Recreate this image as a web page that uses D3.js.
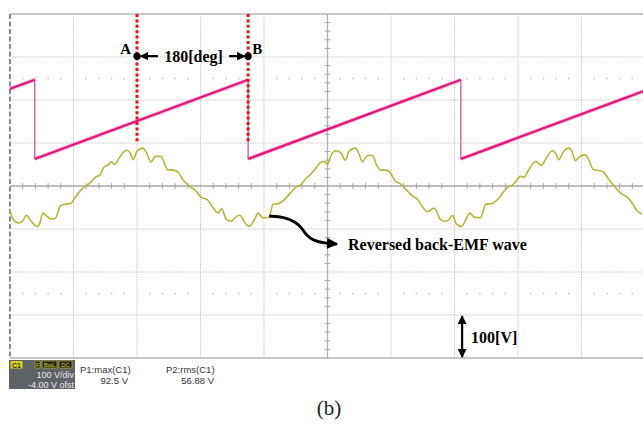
<!DOCTYPE html>
<html><head><meta charset="utf-8">
<script src="https://cdn.jsdelivr.net/npm/d3@7/dist/d3.min.js"></script>
<style>body{margin:0;background:#fff}svg{display:block}</style>
</head><body>
<svg id="c" width="643" height="425"></svg>
<script>
// ---------- data ----------
const divisions = d3.range(0, 11);            // time divisions (10 div screen)
const voltTicks = d3.range(-400, 401, 100);   // 100 V/div, 8 div
// magenta sawtooth (time in div, volts)
const sawT = [0.00, 0.39, 0.39, 3.75, 3.75, 7.10, 7.10, 9.97];
const sawV = [226, 247, 63, 247, 63, 247, 63, 220];
// reversed back-EMF wave
const emfT = [0.00,0.05,0.13,0.20,0.26,0.33,0.42,0.46,0.52,0.58,0.63,0.71,0.79,0.87,0.96,1.02,1.10,1.18,1.26,1.34,1.42,1.47,1.55,1.60,1.65,1.71,1.76,1.84,1.89,1.94,2.00,2.09,2.15,2.22,2.29,2.38,2.48,2.57,2.65,2.72,2.83,2.93,3.01,3.11,3.20,3.28,3.33,3.41,3.49,3.54,3.62,3.70,3.77,3.85,3.91,3.98,4.08,4.14,4.22,4.29,4.40,4.50,4.58,4.66,4.74,4.82,4.90,4.95,5.00,5.06,5.13,5.21,5.28,5.34,5.44,5.50,5.55,5.63,5.71,5.76,5.84,5.92,5.97,6.07,6.15,6.26,6.36,6.41,6.49,6.57,6.68,6.78,6.86,6.91,6.97,7.03,7.11,7.18,7.24,7.32,7.41,7.49,7.60,7.70,7.78,7.86,7.91,7.97,8.04,8.09,8.17,8.28,8.37,8.43,8.54,8.60,8.64,8.72,8.80,8.85,8.90,8.98,9.05,9.10,9.19,9.27,9.35,9.43,9.53,9.61,9.72,9.80,9.87,9.95];
const emfV = [-56,-78,-86,-81,-68,-81,-94,-90,-63,-70,-76,-76,-47,-42,-40,-28,-12,-1,7,20,26,42,50,56,50,63,74,83,77,61,81,88,77,56,69,69,38,37,32,15,-1,-12,-26,-32,-51,-63,-53,-78,-82,-74,-68,-86,-94,-78,-63,-74,-73,-43,-41,-36,-19,-3,3,17,28,42,56,57,50,73,82,77,60,81,88,73,56,71,71,53,37,37,34,11,5,-12,-26,-30,-47,-60,-51,-78,-82,-78,-68,-88,-94,-78,-63,-73,-74,-43,-40,-28,-12,-1,2,11,23,20,38,57,48,61,82,74,61,81,88,81,59,69,73,65,38,36,32,15,-3,-16,-26,-40,-57,-65];
// annotations
const markerT = [2.00, 3.75];
const markerLabels = ["A", "B"];
const markerTopV = 400, markerBottomV = 100, markerDotV = 302;
const phaseLabel = "180[deg]";
const emfLabel = "Reversed back-EMF wave";
const calloutT = [4.08, 4.32, 4.50, 4.60, 4.66, 4.78, 4.95, 5.15];
const calloutV = [-70, -72, -84, -98, -114, -127, -133, -135];
const scaleLabel = "100[V]";
const scaleBarT = 7.12, scaleBarV = [-300, -400];
const readoutNames = ["P1:max(C1)", "P2:rms(C1)"];
const readoutValues = ["92.5 V", "56.88 V"];
const channelInfo = ["100 V/div", "-4.00 V ofst"];
const channelFlags = ["F", "BwL", "DC"];
const caption = "(b)";

// ---------- scales ----------
const svg = d3.select("#c");
const x = d3.scaleLinear().domain([0, 10]).range([10, 645]);
const y = d3.scaleLinear().domain([-400, 400]).range([358, 14]);

const defs = svg.append("defs");
defs.append("marker").attr("id","ah").attr("viewBox","0 0 10 10").attr("refX",9).attr("refY",5)
  .attr("markerWidth",4).attr("markerHeight",4).attr("orient","auto-start-reverse")
  .attr("markerUnits","strokeWidth")
  .append("path").attr("d","M0,0L10,5L0,10z").attr("fill","#000");

const g = svg.append("g");
// grid
g.selectAll(".vg").data(divisions.filter(d => d !== 0 && d !== 5)).join("line")
  .attr("x1", d => x(d)).attr("x2", d => x(d)).attr("y1", y(400)).attr("y2", y(-400))
  .attr("stroke", "#c8c8c8").attr("stroke-width", 1).attr("stroke-dasharray", "1.5,1");
g.selectAll(".hg").data(voltTicks.filter(v => Math.abs(v) !== 400 && v !== 0)).join("line")
  .attr("x1", x(0)).attr("x2", x(10)).attr("y1", d => y(d)).attr("y2", d => y(d))
  .attr("stroke", "#c8c8c8").attr("stroke-width", 1).attr("stroke-dasharray", "1.5,1");
// dotted rows at +/-2.5 div
const minorT = d3.range(0, 50).map(i => i * 0.2).filter(t => Math.abs(t - Math.round(t)) > 0.01);
[250, -250].forEach(v => {
  g.selectAll(null).data(minorT).join("rect")
    .attr("x", d => x(d) - 0.75).attr("y", y(v) - 0.75).attr("width", 1.5).attr("height", 1.5)
    .attr("fill", "#c0c0c0");
});
// borders
g.append("line").attr("x1", x(0)).attr("x2", x(10)).attr("y1", y(400)).attr("y2", y(400))
  .attr("stroke", "#c8c8c8").attr("stroke-width", 2);
g.append("line").attr("x1", x(0)).attr("x2", x(10)).attr("y1", y(-400)).attr("y2", y(-400))
  .attr("stroke", "#c8c8c8").attr("stroke-width", 2);
g.append("line").attr("x1", x(0)).attr("x2", x(0)).attr("y1", y(400)).attr("y2", y(-400))
  .attr("stroke", "#8a8a8a").attr("stroke-width", 2).attr("stroke-dasharray", "5,2.5");
// center axes with ticks
g.append("line").attr("x1", x(0)).attr("x2", x(10)).attr("y1", y(0)).attr("y2", y(0))
  .attr("stroke", "#a8a8a8").attr("stroke-width", 1.3);
g.append("line").attr("x1", x(5)).attr("x2", x(5)).attr("y1", y(400)).attr("y2", y(-400))
  .attr("stroke", "#b0b0b0").attr("stroke-width", 1.3);
g.selectAll(".xt").data(minorT).join("line")
  .attr("x1", d => x(d)).attr("x2", d => x(d)).attr("y1", y(0) - 3).attr("y2", y(0) + 3)
  .attr("stroke", "#a8a8a8").attr("stroke-width", 1);
const minorV = d3.range(-400, 401, 20).filter(v => v % 100 !== 0);
g.selectAll(".yt").data(minorV).join("line")
  .attr("x1", x(5) - 3).attr("x2", x(5) + 3).attr("y1", d => y(d)).attr("y2", d => y(d))
  .attr("stroke", "#a8a8a8").attr("stroke-width", 1);

// back-EMF wave
const emf = emfT.map((t, i) => [t, emfV[i]]);
const line = d3.line().x(d => x(d[0])).y(d => y(d[1])).curve(d3.curveMonotoneX);
g.append("path").datum(emf).attr("d", line).attr("fill", "none")
  .attr("stroke", "#b6b53c").attr("stroke-width", 1.6);

// sawtooth
const saw = sawT.map((t, i) => [t, sawV[i]]);
const ramps = [[saw[0], saw[1]], [saw[2], saw[3]], [saw[4], saw[5]], [saw[6], saw[7]]];
const drops = [[saw[1], saw[2]], [saw[3], saw[4]], [saw[5], saw[6]]];
const lin = d3.line().x(d => x(d[0])).y(d => y(d[1]));
g.selectAll(".drop").data(drops).join("path").attr("d", lin).attr("fill", "none")
  .attr("stroke", "#b8479c").attr("stroke-width", 1.2);
g.selectAll(".rampb").data(ramps).join("path").attr("d", lin).attr("fill", "none")
  .attr("stroke", "#ee4f9c").attr("stroke-opacity", 0.4).attr("stroke-width", 4);
g.selectAll(".ramp").data(ramps).join("path").attr("d", lin).attr("fill", "none")
  .attr("stroke", "#e3137a").attr("stroke-width", 2.2);

// red markers
g.selectAll(".mk").data(markerT).join("line")
  .attr("x1", d => x(d)).attr("x2", d => x(d)).attr("y1", y(markerTopV)).attr("y2", y(markerBottomV))
  .attr("stroke", "#e8131b").attr("stroke-width", 3).attr("stroke-dasharray", "3,2.4");
g.selectAll(".dot").data(markerT).join("circle")
  .attr("cx", d => x(d)).attr("cy", y(markerDotV)).attr("r", 3.6).attr("fill", "#000");
const serif = "'Liberation Serif','Times New Roman',serif";
g.append("text").attr("x", x(markerT[0]) - 6).attr("y", y(markerDotV) - 2).attr("text-anchor", "end")
  .attr("font-family", serif).attr("font-weight", "bold").attr("font-size", 15).text(markerLabels[0]);
g.append("text").attr("x", x(markerT[1]) + 4).attr("y", y(markerDotV) - 2)
  .attr("font-family", serif).attr("font-weight", "bold").attr("font-size", 15).text(markerLabels[1]);
// 180 deg arrows
const midX = (x(markerT[0]) + x(markerT[1])) / 2;
g.append("line").attr("x1", x(markerT[0]) + 21).attr("x2", x(markerT[0]) + 3.5)
  .attr("y1", y(markerDotV)).attr("y2", y(markerDotV)).attr("stroke", "#000").attr("stroke-width", 2.2)
  .attr("marker-end", "url(#ah)");
g.append("line").attr("x1", x(markerT[1]) - 19).attr("x2", x(markerT[1]) - 3.5)
  .attr("y1", y(markerDotV)).attr("y2", y(markerDotV)).attr("stroke", "#000").attr("stroke-width", 2.2)
  .attr("marker-end", "url(#ah)");
g.append("text").attr("x", midX + 1).attr("y", y(markerDotV) + 5.5).attr("text-anchor", "middle")
  .attr("font-family", serif).attr("font-weight", "bold").attr("font-size", 16).text(phaseLabel);

// callout curve
const callout = calloutT.map((t, i) => [t, calloutV[i]]);
g.append("path").datum(callout).attr("d", d3.line().x(d => x(d[0])).y(d => y(d[1])).curve(d3.curveBasis))
  .attr("fill", "none").attr("stroke", "#000").attr("stroke-width", 2.8).attr("marker-end", "url(#ah)");
g.append("text").attr("x", x(calloutT[calloutT.length - 1]) + 11).attr("y", y(calloutV[calloutV.length - 1]) + 6)
  .attr("font-family", serif).attr("font-weight", "bold").attr("font-size", 16).text(emfLabel);

// 100 V scale bar
g.append("line").attr("x1", x(scaleBarT)).attr("x2", x(scaleBarT))
  .attr("y1", y(scaleBarV[0]) + 1).attr("y2", y(scaleBarV[1]) - 1)
  .attr("stroke", "#000").attr("stroke-width", 2.2)
  .attr("marker-start", "url(#ah)").attr("marker-end", "url(#ah)");
g.append("text").attr("x", x(scaleBarT) + 9).attr("y", y((scaleBarV[0] + scaleBarV[1]) / 2) + 6)
  .attr("font-family", serif).attr("font-weight", "bold").attr("font-size", 16).text(scaleLabel);

// channel info panel
const sans = "'Liberation Sans',Arial,sans-serif";
const p = svg.append("g");
p.append("rect").attr("x", 9).attr("y", 360).attr("width", 66).attr("height", 29).attr("fill", "#5e6166");
p.append("rect").attr("x", 10.5).attr("y", 361).attr("width", 12).attr("height", 7.5).attr("fill", "#d9d21e");
p.append("text").attr("x", 16.5).attr("y", 367.5).attr("text-anchor", "middle").attr("font-family", sans)
  .attr("font-size", 7).attr("font-weight", "bold").attr("fill", "#333").text("C1");
const flagX = [35, 42, 59], flagW = [5, 15, 13];
channelFlags.forEach((f, i) => {
  p.append("rect").attr("x", flagX[i]).attr("y", 361).attr("width", flagW[i]).attr("height", 7)
    .attr("fill", "#222").attr("stroke", "#c9c21c").attr("stroke-width", 0.6);
  p.append("text").attr("x", flagX[i] + flagW[i] / 2).attr("y", 367).attr("text-anchor", "middle")
    .attr("font-family", sans).attr("font-size", 6).attr("fill", "#d9d21e").text(f);
});
channelInfo.forEach((s, i) => {
  p.append("text").attr("x", 74).attr("y", 377.5 + i * 10).attr("text-anchor", "end")
    .attr("font-family", sans).attr("font-size", 9).attr("fill", "#e8e8e8").text(s);
});
const roX = [80, 166], roR = [128, 214];
readoutNames.forEach((s, i) => {
  p.append("text").attr("x", roX[i]).attr("y", 373).attr("font-family", sans)
    .attr("font-size", 9.5).attr("fill", "#333").text(s);
  p.append("text").attr("x", roR[i]).attr("y", 384).attr("text-anchor", "end").attr("font-family", sans)
    .attr("font-size", 9.5).attr("fill", "#333").text(readoutValues[i]);
});
svg.append("text").attr("x", 329).attr("y", 415).attr("text-anchor", "middle")
  .attr("font-family", serif).attr("font-size", 21).attr("fill", "#222").text(caption);
</script>
</body></html>
